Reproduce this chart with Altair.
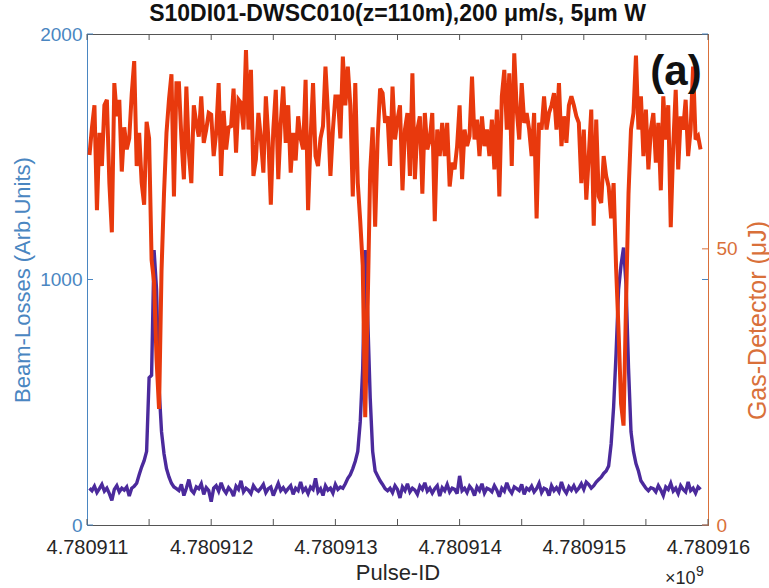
import altair as alt
import pandas as pd

# Readings are logged once every 20 pulses
PULSE_START = 4780911020
PULSE_STEP = 20

# Beam losses (arbitrary units), left axis
beam_losses = [
    150, 140, 158, 132, 148, 165, 138, 150, 128, 100, 145, 160, 135, 150, 142, 155, 118,
    150, 158, 170, 205, 236, 262, 300, 600, 610, 1120, 960, 560, 380, 290, 230, 196, 170, 155, 148,
    140, 165, 120, 150, 185, 142, 130, 155, 148, 168,
    125, 152, 140, 95, 150, 160, 138, 172, 145, 130,
    152, 140, 118, 158, 145, 180, 135, 150, 142, 128,
    160, 145, 138, 150, 165, 132, 148, 155, 120, 145,
    170, 140, 152, 135, 148, 160, 125, 150, 140, 175,
    138, 150, 128, 155, 145, 190, 135, 148, 120, 160,
    142, 150, 130, 165, 145, 155,
    150, 168, 190, 205, 230, 260, 300, 420, 640, 1120, 850, 520, 300, 220, 200, 180, 165, 148, 140,
    150, 132, 160, 145, 110, 155, 140, 168, 135, 150,
    142, 125, 158, 145, 172, 138, 150, 130, 148, 160,
    118, 152, 140, 165, 135, 150, 145, 128, 200, 140,
    150, 132, 158, 145, 120, 155, 140, 168, 130, 150,
    145, 135, 160, 142, 115, 150, 138, 172, 145, 130,
    155, 148, 140, 165, 125, 150, 142, 158, 135, 148,
    170, 132, 150, 145, 120, 160, 140, 152, 135, 175,
    145, 130, 155, 142, 160, 138, 150, 168, 145, 175,
    165,
    150, 160, 175, 185, 195, 210, 220, 240, 330, 480, 700, 960, 1060, 1130, 980, 640, 380, 300,
    250, 220, 180, 165, 150, 140, 152,
    148, 135, 160, 142, 120, 155, 145, 170, 138, 150,
    128, 160, 145, 135, 175, 140, 150, 130, 155, 145,
]

# Gas-detector pulse energy (uJ), right axis
gas_detector = [
    67, 72, 76, 57, 71, 65, 76, 77, 62, 53, 80, 74, 77, 64, 72, 68, 70, 78, 84, 65,
    71, 62, 58, 73, 70, 48, 44, 30, 21, 46, 60, 71, 77, 81.6,
    59.5, 80, 80, 70, 62.6, 79.4, 67.4, 61.9, 76, 72.7,
    70.3, 77.6, 69.2, 71.6, 74.6, 74.3, 66.8, 71, 80, 63.2,
    75, 68, 72, 72.2, 79, 67.4, 77, 76.4, 71.6, 86,
    71.6, 82.4, 63.2, 66.2, 74.6, 70, 63.8, 77.6, 70, 58,
    71.6, 78.8, 62.6, 72.8, 79.4, 69.2, 76, 63.8, 71, 66,
    74, 70, 68, 80.6, 57, 70, 80, 66.8, 65, 70,
    72.2, 83, 74.6, 63.2, 71.6, 77.6, 77.6, 70, 84.8, 76,
    83, 76, 59.5, 80,
    62, 55, 47, 19.5, 40, 64, 72, 54, 70, 79,
    78.2, 72.8, 74, 65, 79.4, 69.8, 73.4, 76, 60.6, 71.6,
    74.6, 63.2, 81.8, 62.6, 71.6, 74, 60, 74.6, 68, 69.8,
    74.6, 55, 71.6, 66.8, 72.8, 66.8, 72.8, 61.3, 65.6, 64.4,
    68.6, 76, 62.6, 71.6, 68.6, 70.4, 81.2, 69.8, 73.4, 66.8,
    74, 68.6, 71.6, 66.8, 73.4, 64.4, 75.2, 59.5, 77.6, 82.4,
    71.6, 81.8, 65, 85.4, 75.2, 69.8, 80, 72.8, 74.6, 71.6,
    66.8, 74.6, 55.5, 72.8, 71.6, 77.6, 71.6, 74.6, 76, 78.2,
    71.6, 80, 68.6, 74, 69.2, 76, 77.6, 76, 74, 72.8,
    61.9, 71.6, 58.9, 66.8, 75.2, 54.2, 73.4, 59.5, 58.3, 66.8,
    63.2, 61.3, 55.5, 61.9, 46.6,
    35, 22, 18, 40,
    60, 71.6, 74.6, 85, 71.6, 77.6, 66.8, 75.2, 64.4, 71.6,
    74.6, 65.6, 72.8, 60.6, 77.6, 69.8, 76, 53.9, 68.6, 78.8,
    64.4, 74, 71.6, 77, 66.8, 71.6, 83, 69.8, 70.4, 68,
]

pulse_id = [PULSE_START + PULSE_STEP * k for k in range(len(beam_losses))]

x_tick_values = [4780911000, 4780911500, 4780912000, 4780912500, 4780913000, 4780913500,
                 4780914000, 4780914500, 4780915000, 4780915500, 4780916000]
x_label_values = [4780911000, 4780912000, 4780913000, 4780914000, 4780915000, 4780916000]
loss_ticks = [0, 1000, 2000]
gas_ticks = [0, 50]

TITLE = "S10DI01-DWSC010(z=110m),200 \u03bcm/s, 5\u03bcm W"

LOSS_AXIS = "#4A86C1"
GAS_AXIS = "#D9703A"
LOSS_LINE = "#4B2A9C"
GAS_LINE = "#E8390D"
FRAME = "#555555"
TEXT = "#262626"
FONT = "Liberation Sans"

W, H = 621, 491

df = pd.DataFrame({"pulse": pulse_id, "losses": beam_losses, "gas": gas_detector})

x_scale = alt.Scale(domain=[4780911000, 4780916000], nice=False, zero=False)
loss_scale = alt.Scale(domain=[0, 2000], nice=False, zero=True)
gas_scale = alt.Scale(domain=[0, 88.9], nice=False, zero=True)

# One shared x definition for every layer so the axis merges cleanly
x_enc = alt.X(
    "pulse:Q",
    scale=x_scale,
    axis=alt.Axis(
        values=x_label_values,
        labelExpr="format(datum.value / 1e9, '.6f')",
        ticks=False, grid=False,
        domainColor=FRAME,
        labelColor=TEXT, labelFont=FONT, labelFontSize=20,
        labelPadding=12, labelFlush=False, labelOverlap=False,
        title="Pulse-ID", titleFont=FONT, titleFontSize=22, titleFontWeight="normal",
        titleColor=TEXT, titlePadding=5,
    ),
)

loss_line = alt.Chart(df).mark_line(color=LOSS_LINE, strokeWidth=3.4, strokeJoin="miter", strokeMiterLimit=3).encode(
    x=x_enc,
    y=alt.Y(
        "losses:Q",
        scale=loss_scale,
        axis=alt.Axis(
            orient="left", values=loss_ticks, format="d", ticks=False, grid=False,
            domainColor=LOSS_AXIS,
            labelColor=LOSS_AXIS, labelFont=FONT, labelFontSize=19, labelPadding=5,
            labelFlush=False, labelOverlap=False,
            title="Beam-Losses (Arb.Units)", titleColor=LOSS_AXIS, titleFont=FONT,
            titleFontSize=22, titleFontWeight="normal", titleAngle=270,
            titleX=-65, titleY=H / 2, titleAlign="center", titleBaseline="middle",
        ),
    ),
)

gas_line = alt.Chart(df).mark_line(color=GAS_LINE, strokeWidth=4, strokeJoin="miter", strokeMiterLimit=3).encode(
    x=x_enc,
    y=alt.Y(
        "gas:Q",
        scale=gas_scale,
        axis=alt.Axis(
            orient="right", values=gas_ticks, format="d", ticks=False, grid=False,
            domainColor=GAS_AXIS,
            labelColor=GAS_AXIS, labelFont=FONT, labelFontSize=19, labelPadding=8,
            labelFlush=False, labelOverlap=False,
            title="Gas-Detector (\u03bcJ)", titleColor=GAS_AXIS, titleFont=FONT,
            titleFontSize=25, titleFontWeight="normal", titleAngle=270,
            titleX=49, titleY=286, titleAlign="center", titleBaseline="middle",
        ),
    ),
)

# Inward tick marks on the frame
x_tick_df = pd.DataFrame({"pulse": x_tick_values})
bottom_ticks = alt.Chart(x_tick_df).mark_rule(color=FRAME, strokeWidth=1).encode(
    x=x_enc, y=alt.value(H), y2=alt.value(H - 6))
top_ticks = alt.Chart(x_tick_df).mark_rule(color=FRAME, strokeWidth=1).encode(
    x=x_enc, y=alt.value(0), y2=alt.value(6))

loss_tick_df = pd.DataFrame({"losses": loss_ticks})
loss_rule = alt.Y("losses:Q", scale=loss_scale, axis=None)
left_ticks = alt.Chart(loss_tick_df).mark_rule(color=LOSS_AXIS, strokeWidth=1).encode(
    y=loss_rule, x=alt.value(0), x2=alt.value(6))
left_ticks_mirror = alt.Chart(loss_tick_df).mark_rule(color=LOSS_AXIS, strokeWidth=1).encode(
    y=loss_rule, x=alt.value(W), x2=alt.value(W - 6))

gas_tick_df = pd.DataFrame({"gas": gas_ticks})
right_ticks = alt.Chart(gas_tick_df).mark_rule(color=GAS_AXIS, strokeWidth=1).encode(
    y=alt.Y("gas:Q", scale=gas_scale, axis=None), x=alt.value(W), x2=alt.value(W - 6))

# Title, panel tag and the axis multiplier
title_text = alt.Chart(pd.DataFrame({"t": [TITLE]})).mark_text(
    font=FONT, fontSize=23, fontWeight="bold", color="#111111", align="center", baseline="alphabetic"
).encode(text="t:N", x=alt.value(W / 2), y=alt.value(-13))
panel_tag = alt.Chart(pd.DataFrame({"t": ["(a)"]})).mark_text(
    font=FONT, fontSize=42, fontWeight="bold", color="#111111", align="center", baseline="middle"
).encode(text="t:N", x=alt.value(589), y=alt.value(38))
mult_base = alt.Chart(pd.DataFrame({"t": ["\u00d710"]})).mark_text(
    font=FONT, fontSize=18, color=TEXT, align="left", baseline="alphabetic"
).encode(text="t:N", x=alt.value(578), y=alt.value(59 + H))
mult_exp = alt.Chart(pd.DataFrame({"t": ["9"]})).mark_text(
    font=FONT, fontSize=14, color=TEXT, align="left", baseline="alphabetic"
).encode(text="t:N", x=alt.value(609), y=alt.value(51 + H))

chart = (
    alt.layer(
        loss_line, left_ticks, left_ticks_mirror, bottom_ticks, top_ticks,
        gas_line, right_ticks,
        title_text, panel_tag, mult_base, mult_exp,
    )
    .resolve_scale(y="independent")
    .properties(
        width=W,
        height=H,
        padding={"left": 87, "top": 34, "right": 61, "bottom": 63},
        autosize=alt.AutoSizeParams(type="none"),
        background="white",
    )
    .configure_view(stroke=FRAME, strokeWidth=1)
)

chart.save("out.html", embed_options={"renderer": "svg", "actions": False})
